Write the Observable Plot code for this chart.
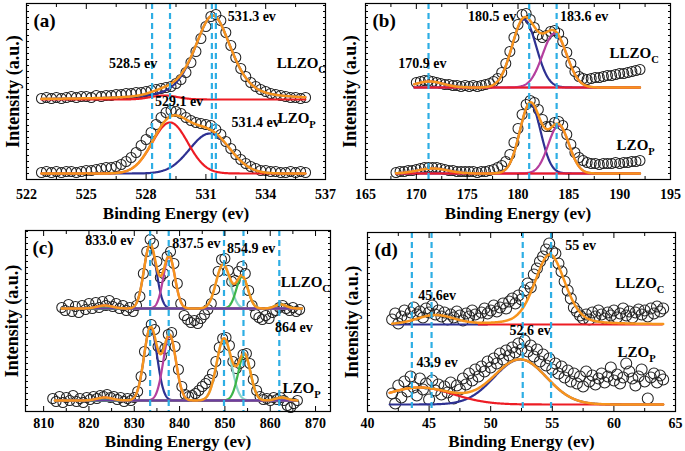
<!DOCTYPE html>
<html><head><meta charset="utf-8">
<script src="https://cdn.jsdelivr.net/npm/d3@7"></script>
<script src="https://cdn.jsdelivr.net/npm/@observablehq/plot@0.6"></script>
<style>
html,body{margin:0;padding:0;background:#fff;}
#wrap{position:relative;width:685px;height:451px;overflow:hidden;background:#fff;}
.panel{position:absolute;}
</style></head><body><div id="wrap"></div>
<script>
// ================= DATA =================
// ---- (a) O 1s ----
const aTicks = [522, 525, 528, 531, 534, 537];
const aLines = [528.3, 529.2, 531.3, 531.5];
const aLLZOStart = 522.75, aLZOStart = 522.75, aStep = 0.25;
const aLLZO = [81,82,81,82,81,82,83,82,83,83,82,84,83,84,84,85,85,86,86,87,87,88,89,90,91,92,93,96,100,107,117,128,141,153,163,165,159,147,134,122,111,103,97,93,90,88,86,85,84,83,82,82,81,82];
const aLZO  = [7,8,7,8,7,8,8,7,8,9,9,10,11,12,12,13,15,18,22,27,34,40,47,55,62,67,69,68,66,62,59,57,56,55,54,50,45,38,31,25,20,16,13,11,9,9,8,8,7,7,8,7,8,7];
const aLLZOBase = 80, aLZOBase = 6;
const aLLZOPeaks = [{center:531.35,height:84,fwhm:2.2,lorentz:0.5},{center:528.9,height:4,fwhm:1.6,lorentz:0}];
const aLZOPeaks  = [{center:531.2,height:40,fwhm:2.4,lorentz:0},{center:529.2,height:51,fwhm:2.1,lorentz:0}];
const aLLZORange = [522.75, 536], aLZORange = [522.75, 536];
const aNotes = [{t:"531.3 ev",x:533.3,y:163},{t:"528.5 ev",x:527.35,y:116},{t:"529.1 ev",x:529.65,y:78},{t:"531.4 ev",x:533.5,y:57}];
const aNames = [{t:"LLZO_C",x:534.55,y:116},{t:"LZO_P",x:534.6,y:61}];

// ---- (b) La 4d / Zr 3d ----
const bTicks = [165, 170, 175, 180, 185, 190, 195];
const bLines = [171.2, 181.1, 183.8];
const bLLZOStart = 170.0, bLZOStart = 168.0, bStep = 0.4;
const bLLZO = [97,98,99,99,98,97,96,95,95,94,94,93,94,93,94,93,94,95,96,98,101,107,116,128,142,155,165,166,160,152,145,142,144,148,149,146,138,127,116,108,103,101,100,101,102,102,103,104,104,105,106,106,107,108,109,110];
const bLZO  = [7,8,8,9,9,10,11,12,12,12,12,11,10,9,9,8,8,8,8,8,7,8,8,9,10,12,14,18,25,37,51,65,75,79,77,70,60,53,53,57,58,54,45,35,27,22,19,17,16,16,15,16,16,16,17,16,17,17,18,18,19];
const bLLZOBase = 92, bLZOBase = 6;
const bLLZOPeaks = [{center:180.6,height:68,fwhm:2.8,lorentz:0},{center:183.6,height:54,fwhm:2.8,lorentz:0},{center:171.3,height:6,fwhm:3.2,lorentz:0}];
const bLZOPeaks  = [{center:181.2,height:70,fwhm:2.4,lorentz:0},{center:184.0,height:48,fwhm:2.4,lorentz:0},{center:171.6,height:5,fwhm:3.5,lorentz:0}];
const bLLZORange = [169.8, 192], bLZORange = [168, 192];
const bNotes = [{t:"170.9 ev",x:170.6,y:116},{t:"180.5 ev",x:177.45,y:163},{t:"183.6 ev",x:186.5,y:163}];
const bNames = [{t:"LLZO_C",x:189.0,y:126},{t:"LZO_P",x:189.7,y:34}];

// ---- (c) La 3d ----
const cTicks = [810, 820, 830, 840, 850, 860, 870];
const cLines = [833.5, 837.6, 849.8, 854.1, 862.0];
const cLLZOStart = 814.0, cLZOStart = 812.0, cStep = 0.75;
const cLLZO = [104,101,107,100,105,99,106,102,108,103,109,104,110,106,111,105,108,103,106,101,104,100,106,115,138,160,172,168,150,134,138,155,160,148,128,108,96,92,89,91,88,93,97,102,108,122,140,152,153,141,130,131,140,145,138,121,106,97,94,92,96,93,99,101,104,106,103,101,104,100,102];
const cLZO  = [13,10,15,9,14,11,16,10,13,9,14,12,15,13,16,15,17,14,15,12,14,10,13,11,14,20,35,60,80,87,82,65,55,63,77,79,65,42,25,17,15,16,18,21,25,28,32,38,50,64,73,74,66,50,43,48,57,58,48,32,21,15,12,13,11,14,12,14,11,6,4,8,11];
const cLLZOBase = 103, cLZOBase = 11;
const cLLZOPeaks = [{center:833.5,height:64,fwhm:3.2,lorentz:0},{center:837.7,height:52,fwhm:3.0,lorentz:0},{center:849.6,height:44,fwhm:3.6,lorentz:0},{center:853.8,height:32,fwhm:3.0,lorentz:0},{center:862.3,height:4,fwhm:3.0,lorentz:0},{center:823.5,height:3,fwhm:4.0,lorentz:0}];
const cLZOPeaks  = [{center:833.6,height:73,fwhm:3.4,lorentz:0},{center:837.8,height:65,fwhm:3.3,lorentz:0},{center:849.8,height:62,fwhm:3.8,lorentz:0},{center:854.3,height:46,fwhm:3.2,lorentz:0},{center:862.5,height:3,fwhm:3.0,lorentz:0},{center:823.5,height:3,fwhm:4.0,lorentz:0}];
const cLLZORange = [814, 867], cLZORange = [812.5, 866];
const cNotes = [{t:"833.0 ev",x:824.5,y:171},{t:"837.5 ev",x:843.7,y:167.5},{t:"854.9 ev",x:855.8,y:163},{t:"864 ev",x:865.2,y:84}];
const cNames = [{t:"LLZO_C",x:862.3,y:129},{t:"LZO_P",x:862.7,y:23}];

// ---- (d) Li 1s ----
const dTicks = [40, 45, 50, 55, 60, 65];
const dLines = [43.6, 45.2, 52.6, 54.9];
const dLLZOStart = 42.0, dLZOStart = 42.0, dStep = 0.25;
const dLLZO = [92,98,88,95,101,93,99,104,97,100,94,103,99,106,97,101,95,99,92,97,94,100,96,91,98,95,101,97,93,99,103,98,101,106,100,104,108,103,110,113,108,116,112,121,128,124,137,143,150,155,162,168,160,158,148,140,130,121,113,104,100,96,93,97,92,99,95,101,97,93,99,96,101,94,98,103,96,100,94,99,102,97,101,95,103,98,105,100,103];
const dLZO  = [18,8,26,14,30,20,35,24,16,33,22,28,12,31,21,27,17,25,19,29,13,26,22,33,27,38,31,42,35,45,40,50,44,53,48,58,52,61,56,64,59,68,62,71,60,66,55,62,50,57,46,53,42,48,38,45,34,41,30,38,28,35,25,40,30,36,27,33,38,29,35,44,31,37,28,34,48,40,33,26,35,42,30,13,34,38,29,36,32];
const dLLZOBase = 87, dLZOBase = 7;
const dLLZOPeaks = [{center:54.8,height:70,fwhm:2.9,lorentz:0.3},{center:45.5,height:9,fwhm:3.5,lorentz:0}];
const dLZOPeaks  = [{center:52.4,height:45,fwhm:5.0,lorentz:0},{center:44.2,height:17,fwhm:6.5,lorentz:0}];
const dLLZORange = [42, 64], dLZORange = [41.8, 64];
const dLLZOFlats = [{from:42, to:49.8},{from:49, to:64}];
const dNotes = [{t:"55 ev",x:57.3,y:166},{t:"45.6ev",x:45.65,y:116},{t:"52.6 ev",x:53.2,y:81},{t:"43.9 ev",x:45.65,y:49}];
const dNames = [{t:"LLZO_C",x:60.1,y:128},{t:"LZO_P",x:60.3,y:59}];

// ================= STYLE =================
const COL = {orange:"#f7941d", blue:"#2e3192", red:"#ed1c24", magenta:"#b53f9e", cyan:"#8ad4c8",
             green:"#3cb54a", purple:"#6c3fa0", dash:"#2eaee4", dot:"#222"};
const FONT = "'Liberation Serif','Times New Roman',serif";

function pv(x, p) {
  const r = ((x - p.center) / p.fwhm) ** 2;
  return p.height * (p.lorentz / (1 + 4 * r) + (1 - p.lorentz) * Math.exp(-4 * Math.LN2 * r));
}
function points(start, step, values) {
  return values.map((v, i) => ({e: start + i * step, i: v}));
}

function panel(cfg) {
  const marks = [];
  const pts = cfg.spectra.flatMap(s => points(s.start, s.step, s.values));
  marks.push(Plot.dot(pts, {x: "e", y: "i", r: cfg.r, stroke: COL.dot, strokeWidth: 1.05, fill: "none"}));
  for (const s of cfg.spectra) {
    const xs = d3.range(s.range[0], s.range[1] + 1e-9, 0.04);
    s.peaks.forEach((p, k) => {
      const col = s.colors[k];
      if (!col) return;
      marks.push(Plot.line(xs.map(x => ({e: x, i: s.base + pv(x, p)})), {x: "e", y: "i", stroke: col, strokeWidth: 2.2}));
    });
    (s.flats || []).forEach((f, k) => {
      marks.push(Plot.ruleY([s.base], {x1: f.from, x2: f.to, stroke: s.flatColors[k], strokeWidth: 2.2}));
    });
    marks.push(Plot.line(xs.map(x => ({e: x, i: s.base + d3.sum(s.peaks, p => pv(x, p))})),
      {x: "e", y: "i", stroke: COL.orange, strokeWidth: 2.5}));
  }
  marks.push(Plot.ruleX(cfg.lines, {stroke: COL.dash, strokeWidth: 2.2, strokeDasharray: "6,4"}));
  marks.push(Plot.text(cfg.notes, {x: "x", y: "y", text: "t", fontSize: 14, fontWeight: "bold", textAnchor: "middle", fill: "black"}));
  marks.push(Plot.text(cfg.names, {x: "x", y: "y", text: "t", fontSize: 15, fontWeight: "bold", textAnchor: "start", fill: "black"}));
  marks.push(Plot.text([cfg.tag], {text: d => d, frameAnchor: "top-left", dx: 7, dy: 17, fontSize: 19, fontWeight: "bold", textAnchor: "start", lineAnchor: "middle"}));
  marks.push(Plot.text(["Binding Energy (ev)"], {text: d => d, frameAnchor: "bottom", dy: cfg.xTitleDy, fontSize: 17, fontWeight: "bold", lineAnchor: "middle", textAnchor: "middle"}));
  marks.push(Plot.text(["Intensity (a.u.)"], {text: d => d, frameAnchor: "left", rotate: -90, dx: -cfg.yTitleDx, fontSize: 18, fontWeight: "bold", textAnchor: "middle", lineAnchor: "middle"}));
  // axes
  const minor = cfg.ticks.slice(0, -1).map((t, i) => (t + cfg.ticks[i + 1]) / 2);
  const yMinor = d3.range(0, cfg.yMax, 6);
  marks.push(Plot.axisX({anchor: "bottom", ticks: cfg.ticks, tickSize: 0, tickPadding: cfg.tickPad, fontSize: 14, fontWeight: "bold", label: null}));
  for (const anchor of ["bottom", "top"]) {
    marks.push(Plot.axisX({anchor, ticks: cfg.ticks, tickSize: -5, tickFormat: () => "", label: null}));
    marks.push(Plot.axisX({anchor, ticks: minor, tickSize: -3, tickFormat: () => "", label: null}));
  }
  for (const anchor of ["left", "right"]) {
    marks.push(Plot.axisY({anchor, ticks: yMinor, tickSize: -3, tickFormat: () => "", label: null}));
  }
  marks.push(Plot.frame({stroke: "black", strokeWidth: 1.2}));

  const svg = Plot.plot({
    width: cfg.width, height: cfg.height,
    marginLeft: cfg.m[0], marginTop: cfg.m[1], marginRight: cfg.m[2], marginBottom: cfg.m[3],
    x: {domain: cfg.xDomain, label: null},
    y: {domain: [0, cfg.yMax], label: null},
    style: {fontFamily: FONT, fontWeight: "bold", fontSize: "14px", background: "transparent", color: "black", overflow: "visible"},
    marks
  });
  // subscripts for sample names
  svg.querySelectorAll("text").forEach(t => {
    const s = t.textContent;
    if (s.includes("_") && t.children.length === 0) {
      const [base, sub] = s.split("_");
      t.textContent = base;
      const ts = document.createElementNS("http://www.w3.org/2000/svg", "tspan");
      ts.setAttribute("dy", "0.45em");
      ts.setAttribute("font-size", "10.5");
      ts.textContent = sub;
      t.appendChild(ts);
    }
  });
  const div = document.createElement("div");
  div.className = "panel";
  div.style.left = cfg.left + "px";
  div.style.top = cfg.top + "px";
  div.appendChild(svg);
  document.getElementById("wrap").appendChild(div);
}

panel({
  tag: "(a)", left: 0, top: 0, width: 340, height: 225, m: [26, 3, 15, 46],
  xDomain: [522, 537], yMax: 176, ticks: aTicks, lines: aLines, r: 5, tickPad: 10,
  notes: aNotes, names: aNames, xTitleDy: 34, yTitleDx: 13,
  spectra: [
    {start: aLLZOStart, step: aStep, values: aLLZO, base: aLLZOBase, peaks: aLLZOPeaks, colors: [COL.blue, COL.red], range: aLLZORange},
    {start: aLZOStart, step: aStep, values: aLZO, base: aLZOBase, peaks: aLZOPeaks, colors: [COL.blue, COL.red], range: aLZORange}
  ]
});
panel({
  tag: "(b)", left: 340, top: 0, width: 345, height: 225, m: [25, 3, 15, 46],
  xDomain: [165, 195], yMax: 176, ticks: bTicks, lines: bLines, r: 5, tickPad: 10,
  notes: bNotes, names: bNames, xTitleDy: 34, yTitleDx: 15,
  spectra: [
    {start: bLLZOStart, step: bStep, values: bLLZO, base: bLLZOBase, peaks: bLLZOPeaks, colors: [COL.blue, COL.magenta, COL.magenta], range: bLLZORange, flats: [{from: bLLZORange[0], to: bLLZORange[1]}], flatColors: [COL.red]},
    {start: bLZOStart, step: bStep, values: bLZO, base: bLZOBase, peaks: bLZOPeaks, colors: [COL.blue, COL.magenta, COL.magenta], range: bLZORange, flats: [{from: bLZORange[0], to: bLZORange[1]}], flatColors: [COL.red]}
  ]
});
panel({
  tag: "(c)", left: 0, top: 225, width: 340, height: 226, m: [25, 5, 10, 40],
  xDomain: [806, 873.3], yMax: 181, ticks: cTicks, lines: cLines, r: 5, tickPad: 7,
  notes: cNotes, names: cNames, xTitleDy: 30, yTitleDx: 13,
  spectra: [
    {start: cLLZOStart, step: cStep, values: cLLZO, base: cLLZOBase, peaks: cLLZOPeaks, colors: [COL.blue, COL.magenta, COL.cyan, COL.green, COL.green, COL.magenta], range: cLLZORange, flats: [{from: 815, to: 866}], flatColors: [COL.purple]},
    {start: cLZOStart, step: cStep, values: cLZO, base: cLZOBase, peaks: cLZOPeaks, colors: [COL.blue, COL.magenta, COL.cyan, COL.green, COL.green, COL.magenta], range: cLZORange, flats: [{from: 813, to: 866}], flatColors: [COL.purple]}
  ]
});
panel({
  tag: "(d)", left: 340, top: 225, width: 345, height: 226, m: [27, 7, 10, 40],
  xDomain: [40, 65], yMax: 179, ticks: dTicks, lines: dLines, r: 5.5, tickPad: 7,
  notes: dNotes, names: dNames, xTitleDy: 30, yTitleDx: 15,
  spectra: [
    {start: dLLZOStart, step: dStep, values: dLLZO, base: dLLZOBase, peaks: dLLZOPeaks, colors: [null, null], range: dLLZORange, flats: dLLZOFlats, flatColors: [COL.blue, COL.red]},
    {start: dLZOStart, step: dStep, values: dLZO, base: dLZOBase, peaks: dLZOPeaks, colors: [COL.blue, COL.red], range: dLZORange}
  ]
});
</script>
</body></html>
